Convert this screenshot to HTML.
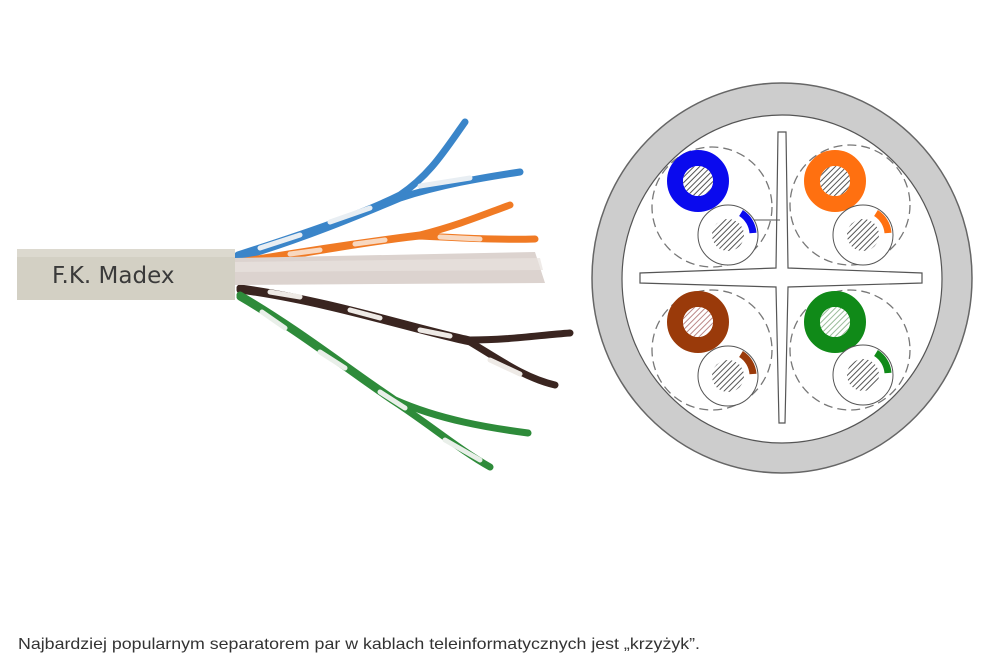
<!DOCTYPE html>
<html><head><meta charset="utf-8"><style>
html,body{margin:0;padding:0;background:#fff;}
svg{display:block}
</style></head><body>
<svg width="1000" height="667" viewBox="0 0 1000 667" xmlns="http://www.w3.org/2000/svg">
<defs>
<pattern id="h" width="4" height="4" patternUnits="userSpaceOnUse" patternTransform="rotate(45)">
<rect width="4" height="4" fill="#fff"/><line x1="0" y1="0" x2="0" y2="4" stroke="#555" stroke-width="2"/>
</pattern>
<pattern id="hb" width="4" height="4" patternUnits="userSpaceOnUse" patternTransform="rotate(45)">
<rect width="4" height="4" fill="#fff"/><line x1="0" y1="0" x2="0" y2="4" stroke="#b88" stroke-width="2"/>
</pattern>
<pattern id="hg" width="4" height="4" patternUnits="userSpaceOnUse" patternTransform="rotate(45)">
<rect width="4" height="4" fill="#fff"/><line x1="0" y1="0" x2="0" y2="4" stroke="#9b9" stroke-width="2"/>
</pattern>
</defs>

<g fill="none" stroke-linecap="round">
<path d="M238,255 C300,235 360,215 400,195 C430,175 445,150 465,122" stroke="#3a85c9" stroke-width="7"/>
<path d="M238,258 C300,240 360,215 400,198 C440,185 480,178 520,172" stroke="#3a85c9" stroke-width="7"/>
<path d="M260,248 L300,235 M330,222 L370,208 M420,186 L470,178" stroke="#e8eef3" stroke-width="5"/>
<path d="M240,262 C310,250 380,240 420,235 C460,225 490,212 510,205" stroke="#f07a24" stroke-width="7"/>
<path d="M240,264 C310,252 380,240 420,236 C460,238 500,240 535,239" stroke="#f07a24" stroke-width="7"/>
<path d="M290,254 L320,250 M355,244 L385,240 M440,237 L480,239" stroke="#f8d8c0" stroke-width="5"/>
<path d="M240,288 C330,300 420,330 470,340 C510,340 540,335 570,333" stroke="#3a2520" stroke-width="7"/>
<path d="M240,290 C330,302 420,332 470,342 C500,360 525,378 555,385" stroke="#3a2520" stroke-width="7"/>
<path d="M270,292 L300,297 M350,310 L380,318 M420,330 L450,336 M490,360 L520,374" stroke="#eeeae6" stroke-width="5"/>
<path d="M240,295 C300,330 350,370 395,400 C440,420 490,428 528,433" stroke="#2e8b3a" stroke-width="7"/>
<path d="M240,297 C300,332 350,372 395,402 C430,425 460,450 490,467" stroke="#2e8b3a" stroke-width="7"/>
<path d="M262,312 L285,328 M320,352 L345,368 M380,392 L405,408 M445,440 L480,460" stroke="#e9efe9" stroke-width="5"/>
</g>

<polygon points="234,258 535,252 545,283 234,285" fill="#dcd3cf"/>
<polygon points="234,262 540,258 543,270 234,272" fill="#e8e2de" opacity="0.7"/>

<rect x="17" y="249" width="218" height="51" fill="#d3d0c4"/>
<rect x="17" y="249" width="218" height="8" fill="#dcd9cf"/>
<text x="52" y="283" font-family="DejaVu Sans, sans-serif" font-size="23" fill="#3a3a3a">F.K. Madex</text>

<ellipse cx="782" cy="278" rx="190" ry="195" fill="#cdcdcd" stroke="#666" stroke-width="1.5"/>
<ellipse cx="782" cy="279" rx="160" ry="164" fill="#fff" stroke="#555" stroke-width="1.2"/>

<g fill="none" stroke="#777" stroke-width="1.3" stroke-dasharray="9,5">
<circle cx="712" cy="207" r="60"/>
<circle cx="850" cy="205" r="60"/>
<circle cx="712" cy="350" r="60"/>
<circle cx="850" cy="350" r="60"/>
</g>

<path d="M778,132 L786,132 L788,268 L922,273 L922,283 L788,287 L785,423 L779,423 L776,287 L640,283 L640,273 L776,268 Z" fill="#fff" stroke="#555" stroke-width="1.2"/>

<line x1="723" y1="220" x2="780" y2="220" stroke="#555" stroke-width="1"/>

<g stroke="#555" stroke-width="1">
<circle cx="698" cy="181" r="23" fill="none" stroke="#0a0aee" stroke-width="16"/>
<circle cx="698" cy="181" r="15" fill="url(#h)" stroke="none"/>
<circle cx="728" cy="235" r="30" fill="#fff"/>
<circle cx="728" cy="235" r="16" fill="url(#h)" stroke="none"/>
<path d="M741,213 A26,26 0 0 1 753,233" fill="none" stroke="#0a0aee" stroke-width="7"/>

<circle cx="835" cy="181" r="23" fill="none" stroke="#ff7010" stroke-width="16"/>
<circle cx="835" cy="181" r="15" fill="url(#h)" stroke="none"/>
<circle cx="863" cy="235" r="30" fill="#fff"/>
<circle cx="863" cy="235" r="16" fill="url(#h)" stroke="none"/>
<path d="M876,213 A26,26 0 0 1 888,233" fill="none" stroke="#ff7010" stroke-width="7"/>

<circle cx="698" cy="322" r="23" fill="none" stroke="#9a3a0a" stroke-width="16"/>
<circle cx="698" cy="322" r="15" fill="url(#hb)" stroke="none"/>
<circle cx="728" cy="376" r="30" fill="#fff"/>
<circle cx="728" cy="376" r="16" fill="url(#h)" stroke="none"/>
<path d="M741,354 A26,26 0 0 1 753,374" fill="none" stroke="#9a3a0a" stroke-width="7"/>

<circle cx="835" cy="322" r="23" fill="none" stroke="#108a18" stroke-width="16"/>
<circle cx="835" cy="322" r="15" fill="url(#hg)" stroke="none"/>
<circle cx="863" cy="375" r="30" fill="#fff"/>
<circle cx="863" cy="375" r="16" fill="url(#h)" stroke="none"/>
<path d="M876,353 A26,26 0 0 1 888,373" fill="none" stroke="#108a18" stroke-width="7"/>
</g>

<text x="18" y="649" font-family="Liberation Sans, sans-serif" font-size="16" fill="#333" textLength="682" lengthAdjust="spacingAndGlyphs">Najbardziej popularnym separatorem par w kablach teleinformatycznych jest „krzyżyk”.</text>
</svg>
</body></html>
